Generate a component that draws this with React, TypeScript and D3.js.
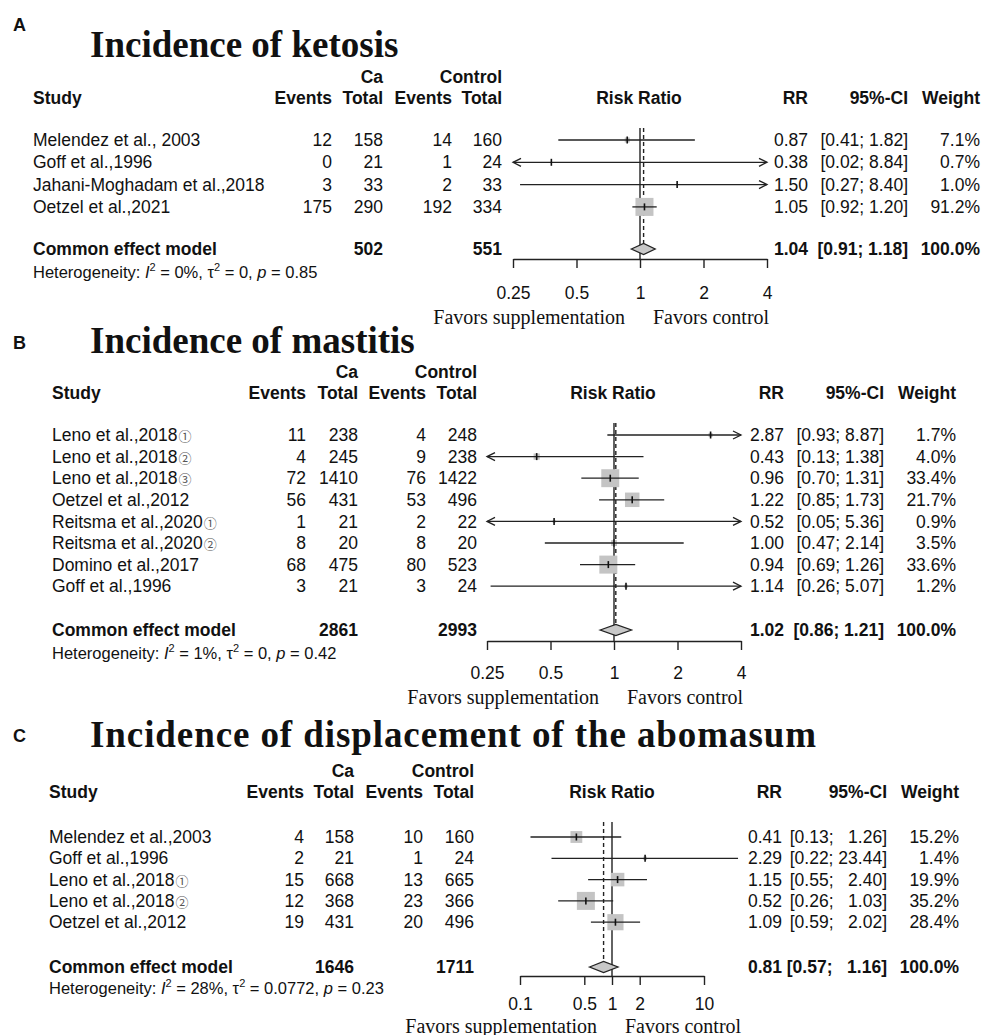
import React, { useEffect, useRef } from 'react';
import * as d3 from 'd3';

// ---- A: ketosis
const ketosisStudies = ["Melendez et al., 2003", "Goff et al.,1996", "Jahani-Moghadam et al.,2018", "Oetzel et al.,2021"];
const ketosisTags = ["", "", "", ""];
const ketosisCaEvents = [12, 0, 3, 175];
const ketosisCaTotal = [158, 21, 33, 290];
const ketosisCtrlEvents = [14, 1, 2, 192];
const ketosisCtrlTotal = [160, 24, 33, 334];
const ketosisRR = [0.87, 0.38, 1.50, 1.05];
const ketosisLower = [0.41, 0.02, 0.27, 0.92];
const ketosisUpper = [1.82, 8.84, 8.40, 1.20];
const ketosisWeight = [7.1, 0.7, 1.0, 91.2];
const ketosisCommon = [1.04, 0.91, 1.18];
const ketosisTotals = [502, 551];
const ketosisHet = ["0%", "0", "0.85"];
const ketosisTicks = [0.25, 0.5, 1, 2, 4];

// ---- B: mastitis
const mastitisStudies = ["Leno et al.,2018", "Leno et al.,2018", "Leno et al.,2018", "Oetzel et al.,2012", "Reitsma et al.,2020", "Reitsma et al.,2020", "Domino et al.,2017", "Goff et al.,1996"];
const mastitisTags = ["①", "②", "③", "", "①", "②", "", ""];
const mastitisCaEvents = [11, 4, 72, 56, 1, 8, 68, 3];
const mastitisCaTotal = [238, 245, 1410, 431, 21, 20, 475, 21];
const mastitisCtrlEvents = [4, 9, 76, 53, 2, 8, 80, 3];
const mastitisCtrlTotal = [248, 238, 1422, 496, 22, 20, 523, 24];
const mastitisRR = [2.87, 0.43, 0.96, 1.22, 0.52, 1.00, 0.94, 1.14];
const mastitisLower = [0.93, 0.13, 0.70, 0.85, 0.05, 0.47, 0.69, 0.26];
const mastitisUpper = [8.87, 1.38, 1.31, 1.73, 5.36, 2.14, 1.26, 5.07];
const mastitisWeight = [1.7, 4.0, 33.4, 21.7, 0.9, 3.5, 33.6, 1.2];
const mastitisCommon = [1.02, 0.86, 1.21];
const mastitisTotals = [2861, 2993];
const mastitisHet = ["1%", "0", "0.42"];
const mastitisTicks = [0.25, 0.5, 1, 2, 4];

// ---- C: displacement of the abomasum
const abomasumStudies = ["Melendez et al.,2003", "Goff et al.,1996", "Leno et al.,2018", "Leno et al.,2018", "Oetzel et al.,2012"];
const abomasumTags = ["", "", "①", "②", ""];
const abomasumCaEvents = [4, 2, 15, 12, 19];
const abomasumCaTotal = [158, 21, 668, 368, 431];
const abomasumCtrlEvents = [10, 1, 13, 23, 20];
const abomasumCtrlTotal = [160, 24, 665, 366, 496];
const abomasumRR = [0.41, 2.29, 1.15, 0.52, 1.09];
const abomasumLower = [0.13, 0.22, 0.55, 0.26, 0.59];
const abomasumUpper = [1.26, 23.44, 2.40, 1.03, 2.02];
const abomasumWeight = [15.2, 1.4, 19.9, 35.2, 28.4];
const abomasumCommon = [0.81, 0.57, 1.16];
const abomasumTotals = [1646, 1711];
const abomasumHet = ["28%", "0.0772", "0.23"];
const abomasumTicks = [0.1, 0.5, 1, 2, 10];

const SANS = "'Liberation Sans', Arial, Helvetica, sans-serif";
const SERIF = "'Liberation Serif', 'Times New Roman', serif";
const FS = 17.5;

type Layout = {
  label: string; title: string; titleLen?: number;
  labelY: number; titleY: number; caY: number; headY: number;
  rowY0: number; rowStep: number; commonY: number; hetY: number;
  studyX: number; cols: number[]; range: [number, number]; clip: [number, number];
  rrX: number; ciX: number; wX: number; rrHeadX: number;
  axisY: number; tickY: number; favY: number; lineTop: number;
};

type Data = {
  studies: string[]; tags: string[]; caE: number[]; caT: number[]; ctE: number[]; ctT: number[];
  rr: number[]; lo: number[]; hi: number[]; w: number[]; common: number[]; totals: number[];
  het: string[]; ticks: number[];
};

const layoutA: Layout = {
  label: "A", title: "Incidence of ketosis",
  labelY: 25, titleY: 57, caY: 77, headY: 98,
  rowY0: 140, rowStep: 22.3, commonY: 249, hetY: 272,
  studyX: 33, cols: [332, 383, 452, 502], range: [513, 767], clip: [0.25, 4],
  rrX: 808, ciX: 908, wX: 980, rrHeadX: 639,
  axisY: 259, tickY: 293, favY: 317, lineTop: 128,
};
const layoutB: Layout = {
  label: "B", title: "Incidence of mastitis",
  labelY: 343, titleY: 353, caY: 372, headY: 393,
  rowY0: 435, rowStep: 21.6, commonY: 630, hetY: 653,
  studyX: 52, cols: [306, 358, 426, 477], range: [487, 741], clip: [0.25, 4],
  rrX: 784, ciX: 884, wX: 956, rrHeadX: 613,
  axisY: 641, tickY: 673, favY: 697, lineTop: 423,
};
const layoutC: Layout = {
  label: "C", title: "Incidence of displacement of the abomasum", titleLen: 726,
  labelY: 736, titleY: 747, caY: 771, headY: 792,
  rowY0: 837, rowStep: 21.3, commonY: 967, hetY: 988,
  studyX: 49, cols: [304, 354, 423, 474], range: [520, 704], clip: [0.05, 100],
  rrX: 782, ciX: 887, wX: 959, rrHeadX: 612,
  axisY: 976, tickY: 1003.5, favY: 1025.5, lineTop: 822,
};

function ciText(lo: number[], hi: number[], a: number, b: number) {
  const loW = d3.max(lo, d => d.toFixed(2).length) as number;
  const hiW = d3.max(hi, d => d.toFixed(2).length) as number;
  const pad = (s: string, n: number) => "  ".repeat(Math.max(0, n - s.length)) + s;
  return `[${pad(a.toFixed(2), loW)}; ${pad(b.toFixed(2), hiW)}]`;
}

function Axis({ x, y, ticks, tickY }: { x: d3.ScaleLogarithmic<number, number>; y: number; ticks: number[]; tickY: number }) {
  const ref = useRef<SVGGElement>(null);
  useEffect(() => {
    const g = d3.select(ref.current);
    g.selectAll("*").remove();
    const axis = d3.axisBottom(x)
      .tickValues(ticks)
      .tickFormat(d => String(d))
      .tickSize(9)
      .tickSizeOuter(0)
      .tickPadding(tickY - y - 9 - FS * 0.36);
    g.call(axis);
    g.select(".domain").attr("stroke", "#222").attr("stroke-width", 1.4);
    g.selectAll(".tick line").attr("stroke", "#222").attr("stroke-width", 1.4);
    g.selectAll(".tick text")
      .attr("fill", "#111")
      .style("font-family", SANS)
      .style("font-size", FS + "px");
  }, [x, y, ticks, tickY]);
  return <g ref={ref} transform={`translate(0,${y})`} />;
}

function Panel({ L, D }: { L: Layout; D: Data }) {
  const x = d3.scaleLog().domain([D.ticks[0], D.ticks[D.ticks.length - 1]]).range(L.range);
  const box = d3.scaleSqrt().domain([0, d3.max(D.w) as number]).range([0, 18]);
  const rowY = (i: number) => L.rowY0 + i * L.rowStep;
  const cx0 = x(L.clip[0]);
  const cx1 = x(L.clip[1]);
  const [cRR, cLo, cHi] = D.common;

  const txt = (props: any, content: React.ReactNode) => (
    <text fontFamily={SANS} fontSize={FS} fill="#111" dy="0.35em" {...props}>{content}</text>
  );

  return (
    <g>
      <text x={13} y={L.labelY} dy="0.35em" fontFamily={SANS} fontWeight="bold" fontSize={18} fill="#111">{L.label}</text>
      <text x={90} y={L.titleY} fontFamily={SERIF} fontWeight="bold" fontSize={37} fill="#111"
        {...(L.titleLen ? { textLength: L.titleLen, lengthAdjust: "spacing" } : {})}>{L.title}</text>

      {txt({ x: L.cols[1], y: L.caY, textAnchor: "end", fontWeight: "bold" }, "Ca")}
      {txt({ x: L.cols[3], y: L.caY, textAnchor: "end", fontWeight: "bold" }, "Control")}
      {txt({ x: L.studyX, y: L.headY, fontWeight: "bold" }, "Study")}
      {["Events", "Total", "Events", "Total"].map((h, k) =>
        <React.Fragment key={k}>{txt({ x: L.cols[k], y: L.headY, textAnchor: "end", fontWeight: "bold" }, h)}</React.Fragment>)}
      {txt({ x: L.rrHeadX, y: L.headY, textAnchor: "middle", fontWeight: "bold" }, "Risk Ratio")}
      {txt({ x: L.rrX, y: L.headY, textAnchor: "end", fontWeight: "bold" }, "RR")}
      {txt({ x: L.ciX, y: L.headY, textAnchor: "end", fontWeight: "bold" }, "95%-CI")}
      {txt({ x: L.wX, y: L.headY, textAnchor: "end", fontWeight: "bold" }, "Weight")}

      {D.studies.map((s, i) => {
        const y = rowY(i);
        const cells = [D.caE[i], D.caT[i], D.ctE[i], D.ctT[i]];
        return (
          <g key={i}>
            <text x={L.studyX} y={y} dy="0.35em" fontFamily={SANS} fontSize={FS} fill="#111">
              {s}
              {D.tags[i] && <tspan fontFamily="'Noto Sans CJK SC', 'DejaVu Sans', sans-serif" fontSize={13} fill="#555" dx={1}>{D.tags[i]}</tspan>}
            </text>
            {cells.map((v, k) => <React.Fragment key={k}>{txt({ x: L.cols[k], y, textAnchor: "end" }, v)}</React.Fragment>)}
            {txt({ x: L.rrX, y, textAnchor: "end" }, D.rr[i].toFixed(2))}
            {txt({ x: L.ciX, y, textAnchor: "end", style: { whiteSpace: "pre" } }, ciText(D.lo, D.hi, D.lo[i], D.hi[i]))}
            {txt({ x: L.wX, y, textAnchor: "end" }, D.w[i].toFixed(1) + "%")}
          </g>
        );
      })}

      {txt({ x: L.studyX, y: L.commonY, fontWeight: "bold" }, "Common effect model")}
      {txt({ x: L.cols[1], y: L.commonY, textAnchor: "end", fontWeight: "bold" }, D.totals[0])}
      {txt({ x: L.cols[3], y: L.commonY, textAnchor: "end", fontWeight: "bold" }, D.totals[1])}
      {txt({ x: L.rrX, y: L.commonY, textAnchor: "end", fontWeight: "bold" }, cRR.toFixed(2))}
      {txt({ x: L.ciX, y: L.commonY, textAnchor: "end", fontWeight: "bold", style: { whiteSpace: "pre" } }, ciText(D.lo, D.hi, cLo, cHi))}
      {txt({ x: L.wX, y: L.commonY, textAnchor: "end", fontWeight: "bold" }, "100.0%")}

      <text x={L.studyX} y={L.hetY} dy="0.35em" fontFamily={SANS} fontSize={16.5} fill="#111" style={{ whiteSpace: "pre" }}>
        Heterogeneity: <tspan fontStyle="italic">I</tspan>
        <tspan dy={-7} fontSize={11}>2</tspan>
        <tspan dy={7}>{` = ${D.het[0]}, τ`}</tspan>
        <tspan dy={-7} fontSize={11}>2</tspan>
        <tspan dy={7}>{` = ${D.het[1]}, `}</tspan>
        <tspan fontStyle="italic">p</tspan>{` = ${D.het[2]}`}
      </text>

      {/* reference line at 1 and dashed line at the common effect */}
      <line x1={x(1)} x2={x(1)} y1={L.lineTop} y2={L.axisY} stroke="#222" strokeWidth={1.4} />
      <line x1={x(cRR)} x2={x(cRR)} y1={L.lineTop} y2={L.commonY - 5.5} stroke="#222" strokeWidth={1.4} strokeDasharray="4,3" />

      {D.rr.map((r, i) => {
        const y = rowY(i);
        const left = D.lo[i] < L.clip[0];
        const right = D.hi[i] > L.clip[1];
        const xa = left ? cx0 : x(D.lo[i]);
        const xb = right ? cx1 : x(D.hi[i]);
        const s = box(D.w[i]);
        return (
          <g key={i}>
            <rect x={x(r) - s / 2} y={y - s / 2} width={s} height={s} fill="#c4c4c4" />
            <line x1={xa} x2={xb} y1={y} y2={y} stroke="#222" strokeWidth={1.3} />
            {left && <path d={`M${xa + 8},${y - 4}L${xa},${y}L${xa + 8},${y + 4}`} fill="none" stroke="#222" strokeWidth={1.3} />}
            {right && <path d={`M${xb - 8},${y - 4}L${xb},${y}L${xb - 8},${y + 4}`} fill="none" stroke="#222" strokeWidth={1.3} />}
            <line x1={x(r)} x2={x(r)} y1={y - 3.5} y2={y + 3.5} stroke="#111" strokeWidth={1.6} />
          </g>
        );
      })}

      <path
        d={`M${x(cLo)},${L.commonY}L${x(cRR)},${L.commonY - 5.5}L${x(cHi)},${L.commonY}L${x(cRR)},${L.commonY + 5.5}Z`}
        fill="#c8c8c8" stroke="#222" strokeWidth={1.3}
      />

      <Axis x={x} y={L.axisY} ticks={D.ticks} tickY={L.tickY} />

      <text x={x(1) - 15} y={L.favY} dy="0.35em" textAnchor="end" fontFamily={SERIF} fontSize={20} fill="#111">Favors supplementation</text>
      <text x={x(1) + 13} y={L.favY} dy="0.35em" textAnchor="start" fontFamily={SERIF} fontSize={20} fill="#111">Favors control</text>
    </g>
  );
}

const dataA: Data = {
  studies: ketosisStudies, tags: ketosisTags, caE: ketosisCaEvents, caT: ketosisCaTotal,
  ctE: ketosisCtrlEvents, ctT: ketosisCtrlTotal, rr: ketosisRR, lo: ketosisLower, hi: ketosisUpper,
  w: ketosisWeight, common: ketosisCommon, totals: ketosisTotals, het: ketosisHet, ticks: ketosisTicks,
};
const dataB: Data = {
  studies: mastitisStudies, tags: mastitisTags, caE: mastitisCaEvents, caT: mastitisCaTotal,
  ctE: mastitisCtrlEvents, ctT: mastitisCtrlTotal, rr: mastitisRR, lo: mastitisLower, hi: mastitisUpper,
  w: mastitisWeight, common: mastitisCommon, totals: mastitisTotals, het: mastitisHet, ticks: mastitisTicks,
};
const dataC: Data = {
  studies: abomasumStudies, tags: abomasumTags, caE: abomasumCaEvents, caT: abomasumCaTotal,
  ctE: abomasumCtrlEvents, ctT: abomasumCtrlTotal, rr: abomasumRR, lo: abomasumLower, hi: abomasumUpper,
  w: abomasumWeight, common: abomasumCommon, totals: abomasumTotals, het: abomasumHet, ticks: abomasumTicks,
};

export default function App() {
  return (
    <div style={{ position: "absolute", left: 0, top: 0 }}>
      <svg width={982} height={1035} style={{ display: "block", background: "#fff" }}>
        <Panel L={layoutA} D={dataA} />
        <Panel L={layoutB} D={dataB} />
        <Panel L={layoutC} D={dataC} />
      </svg>
    </div>
  );
}
